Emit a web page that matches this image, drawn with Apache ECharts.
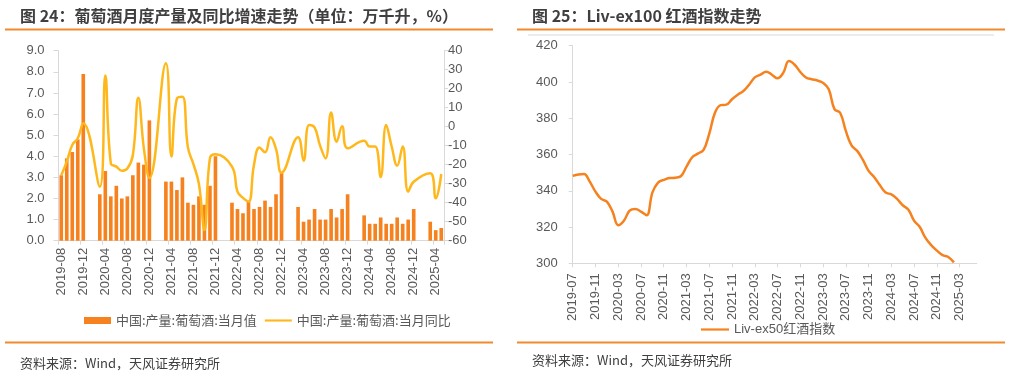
<!DOCTYPE html>
<html>
<head>
<meta charset="utf-8">
<script src="https://cdn.jsdelivr.net/npm/echarts@6/dist/echarts.min.js"></script>
<style>
html,body{margin:0;padding:0;background:#fff;}
#c{width:1011px;height:372px;}
</style>
</head>
<body>
<div id="c"></div>
<script>
// ---------- Left chart: wine monthly output (万千升) and YoY (%) ----------
const prodMonths = [
 '2019-08','2019-09','2019-10','2019-11','2019-12',
 '2020-01','2020-02','2020-03','2020-04','2020-05','2020-06','2020-07','2020-08','2020-09','2020-10','2020-11','2020-12',
 '2021-01','2021-02','2021-03','2021-04','2021-05','2021-06','2021-07','2021-08','2021-09','2021-10','2021-11','2021-12',
 '2022-01','2022-02','2022-03','2022-04','2022-05','2022-06','2022-07','2022-08','2022-09','2022-10','2022-11','2022-12',
 '2023-01','2023-02','2023-03','2023-04','2023-05','2023-06','2023-07','2023-08','2023-09','2023-10','2023-11','2023-12',
 '2024-01','2024-02','2024-03','2024-04','2024-05','2024-06','2024-07','2024-08','2024-09','2024-10','2024-11','2024-12',
 '2025-01','2025-02','2025-03','2025-04','2025-05'
];
const prodValue = [
 3.1,3.9,4.2,4.8,7.9,
 null,null,2.2,3.3,2.1,2.6,2.0,2.1,3.1,3.7,3.6,5.7,
 null,null,2.8,2.8,2.4,3.0,1.8,1.7,2.1,1.7,2.6,4.0,
 null,null,1.8,1.5,1.3,1.9,1.5,1.6,1.9,1.6,2.2,3.2,
 null,null,1.6,0.9,1.0,1.5,1.0,1.0,1.5,1.1,1.5,2.2,
 null,null,1.2,0.8,0.8,1.1,0.8,0.8,1.1,0.8,1.0,1.5,
 null,null,0.9,0.5,0.6
];
const prodYoY = [
 -25.6,-18.4,-9.6,-6.1,1.8,
 null,null,-31.6,26.9,-19.3,-21,-23.2,-22,-15,15.2,-11.4,-27,
 null,null,33.4,-15.7,14.8,15.7,-10.9,-19.7,-30.2,-54.4,-16.6,-14.5,
 null,null,-21,-34.2,-37.5,-39.5,-20,-11,-13.5,-5.6,-11.8,-24.2,
 null,null,-5.5,-17.9,0.9,-0.4,-10,-16.7,7.5,-7.9,0.2,-11.4,
 null,null,-7.4,-10.4,-10.4,-26.5,0.9,-10.4,-20.5,-10.4,-34.2,-29,
 null,null,-24.5,-37.7,-24.9
];
const barName = '中国:产量:葡萄酒:当月值';
const lineName = '中国:产量:葡萄酒:当月同比';

// ---------- Right chart: Liv-ex index ----------
const livMonths = [
 '2019-07','2019-08','2019-09','2019-10','2019-11','2019-12',
 '2020-01','2020-02','2020-03','2020-04','2020-05','2020-06','2020-07','2020-08','2020-09','2020-10','2020-11','2020-12',
 '2021-01','2021-02','2021-03','2021-04','2021-05','2021-06','2021-07','2021-08','2021-09','2021-10','2021-11','2021-12',
 '2022-01','2022-02','2022-03','2022-04','2022-05','2022-06','2022-07','2022-08','2022-09','2022-10','2022-11','2022-12',
 '2023-01','2023-02','2023-03','2023-04','2023-05','2023-06','2023-07','2023-08','2023-09','2023-10','2023-11','2023-12',
 '2024-01','2024-02','2024-03','2024-04','2024-05','2024-06','2024-07','2024-08','2024-09','2024-10','2024-11','2024-12',
 '2025-01','2025-02','2025-03','2025-04','2025-05','2025-06'
];
const livIndex = [
 348.2,349.0,349.3,345.0,339.5,335.5,
 334.0,328.5,321.0,323.5,329.0,330.0,328.5,326.5,339.0,344.5,346.0,347.0,
 347.2,348.0,353.3,358.5,360.5,362.5,371.5,383.0,387.2,387.5,390.5,393.0,
 395.0,398.5,402.5,404.0,405.7,404.0,402.0,405.0,411.5,409.5,405.5,402.5,
 401.5,400.8,399.5,396.0,385.0,383.0,373.0,365.0,362.0,357.0,351.0,347.5,
 343.0,339.0,338.0,335.5,332.0,329.5,323.5,320.0,314.0,310.0,307.0,304.5,
 303.5,300.5,null,null,null,null
];
const livName = 'Liv-ex50红酒指数';

const leftTicks = { min: 0, max: 9, interval: 1 };
const rightTicks = { min: -60, max: 40, interval: 10 };
const livTicks = { min: 300, max: 420, interval: 20 };

const ORANGE = '#F5821F';
const GOLD = '#FFB81C';
const AXIS = '#D9D9D9';
const LABEL = '#595959';
const NUMFONT = '"Liberation Sans", Arial, "Noto Sans CJK SC", sans-serif';
const CJKFONT = '"Noto Sans CJK SC", "Liberation Sans", sans-serif';
const LINE_ICON = 'path://M0,0 L28,0 L28,2.2 L0,2.2 Z';

const chart = echarts.init(document.getElementById('c'));

const hline = (x1, x2, y, color, w) => ({
  type: 'line', silent: true,
  shape: { x1: x1, y1: y, x2: x2, y2: y },
  style: { stroke: color, lineWidth: w }
});

chart.setOption({
  animation: false,
  backgroundColor: '#fff',
  title: [
    { text: '图 24：葡萄酒月度产量及同比增速走势（单位：万千升，%）', left: 15, top: 3,
      textStyle: { fontSize: 16, fontWeight: 'bold', color: '#3F3F3F', fontFamily: CJKFONT } },
    { text: '图 25：Liv-ex100 红酒指数走势', left: 527, top: 3,
      textStyle: { fontSize: 16, fontWeight: 'bold', color: '#3F3F3F', fontFamily: CJKFONT } },
    { text: '资料来源：Wind，天风证券研究所', left: 15, top: 352,
      textStyle: { fontSize: 13, fontWeight: 'normal', color: '#404040', fontFamily: CJKFONT } },
    { text: '资料来源：Wind，天风证券研究所', left: 527, top: 349,
      textStyle: { fontSize: 13, fontWeight: 'normal', color: '#404040', fontFamily: CJKFONT } }
  ],
  graphic: [
    hline(5, 493, 29.5, '#F08A2C', 2),
    hline(517, 1005, 29.5, '#F08A2C', 2),
    hline(528, 994, 35, AXIS, 1),
    hline(5, 493, 342.5, '#F08A2C', 2),
    hline(517, 1005, 342.5, '#F08A2C', 2)
  ],
  legend: [
    { data: [{ name: barName, icon: 'rect' }, { name: lineName, icon: LINE_ICON }],
      left: 79, top: 309, itemWidth: 27, itemHeight: 7, itemGap: 8,
      textStyle: { fontSize: 13, color: LABEL, fontFamily: CJKFONT } },
    { data: [{ name: livName, icon: LINE_ICON }], left: 696, top: 318, itemWidth: 28, itemHeight: 7,
      textStyle: { fontSize: 13, color: LABEL, fontFamily: NUMFONT } }
  ],
  grid: [
    { left: 58.5, top: 50.7, width: 385.5, height: 190 },
    { left: 572.7, top: 45.7, width: 404, height: 217.6 }
  ],
  xAxis: [
    { gridIndex: 0, type: 'category', data: prodMonths, boundaryGap: true,
      axisLine: { lineStyle: { color: AXIS, width: 1 } },
      axisTick: { show: true, interval: 3, length: 4, lineStyle: { color: AXIS } },
      axisLabel: { interval: 3, rotate: 90, margin: 7, fontSize: 13, color: LABEL, fontFamily: NUMFONT } },
    { gridIndex: 1, type: 'category', data: livMonths, boundaryGap: false,
      axisLine: { lineStyle: { color: AXIS, width: 1 } },
      axisTick: { show: true, interval: 3, length: 4, lineStyle: { color: AXIS } },
      axisLabel: { interval: 3, rotate: 90, margin: 10, fontSize: 13, color: LABEL, fontFamily: NUMFONT } }
  ],
  yAxis: [
    { gridIndex: 0, type: 'value', position: 'left', min: leftTicks.min, max: leftTicks.max, interval: leftTicks.interval,
      axisLine: { show: true, lineStyle: { color: AXIS } },
      axisTick: { show: true, length: 5, lineStyle: { color: AXIS } },
      splitLine: { show: false },
      axisLabel: { margin: 14, fontSize: 13, color: LABEL, fontFamily: NUMFONT, formatter: v => v.toFixed(1) } },
    { gridIndex: 0, type: 'value', position: 'right', min: rightTicks.min, max: rightTicks.max, interval: rightTicks.interval,
      axisLine: { show: true, lineStyle: { color: AXIS } },
      axisTick: { show: true, length: 4, lineStyle: { color: AXIS } },
      splitLine: { show: false },
      axisLabel: { margin: 4, fontSize: 13, color: LABEL, fontFamily: NUMFONT } },
    { gridIndex: 1, type: 'value', min: livTicks.min, max: livTicks.max, interval: livTicks.interval,
      axisLine: { show: true, lineStyle: { color: AXIS } },
      axisTick: { show: true, length: 4, lineStyle: { color: AXIS } },
      splitLine: { show: false },
      axisLabel: { margin: 15, fontSize: 13, color: LABEL, fontFamily: NUMFONT } }
  ],
  series: [
    { name: barName, type: 'bar', xAxisIndex: 0, yAxisIndex: 0, data: prodValue,
      barWidth: '66%', itemStyle: { color: ORANGE } },
    { name: lineName, type: 'line', xAxisIndex: 0, yAxisIndex: 1, data: prodYoY,
      connectNulls: true, smooth: 0.45, symbol: 'none', z: 3,
      lineStyle: { color: GOLD, width: 2.5 }, itemStyle: { color: GOLD } },
    { name: livName, type: 'line', xAxisIndex: 1, yAxisIndex: 2, data: livIndex,
      smooth: 0.4, symbol: 'none',
      lineStyle: { color: ORANGE, width: 2.5 }, itemStyle: { color: ORANGE } }
  ]
});
</script>
</body>
</html>
